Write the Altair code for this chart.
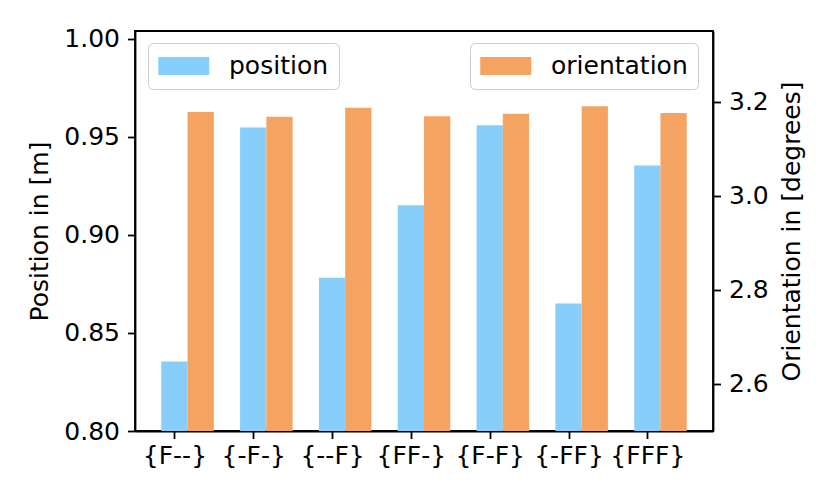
import json
import altair as alt
import pandas as pd

configs = ["{F--}", "{-F-}", "{--F}", "{FF-}", "{F-F}", "{-FF}", "{FFF}"]
position = [0.8354, 0.9548, 0.8781, 0.9151, 0.9559, 0.8650, 0.9354]
orientation = [3.178, 3.168, 3.187, 3.169, 3.174, 3.190, 3.176]
pos_ticks = [0.80, 0.85, 0.90, 0.95, 1.00]
ori_ticks = [2.6, 2.8, 3.0, 3.2]

df = pd.DataFrame({
    "config": configs,
    "idx": list(range(len(configs))),
    "position": position,
    "orientation": orientation,
})

FONT = "DejaVu Sans"
FS = 25
label_expr = "%s[datum.value]" % json.dumps(configs)

xenc = alt.X(
    "x0:Q",
    scale=alt.Scale(domain=[-0.5, 6.8333], nice=False, zero=False),
    axis=alt.Axis(values=list(range(len(configs))), labelExpr=label_expr,
                  title=None, grid=False, labelPadding=5,
                  labelOverlap=False, labelFlush=False),
)

legend_common = dict(
    title=None, orient="none", legendY=12,
    strokeColor="#cccccc", fillColor="rgba(255,255,255,0.8)",
    cornerRadius=5, padding=10,
    symbolType="M-1,-0.7H3V0.7H-1Z", symbolSize=650,
    symbolStrokeWidth=0, symbolOpacity=1,
    labelFontSize=FS, labelFont=FONT, labelColor="black", labelOffset=45,
)

pos_layer = alt.Chart(df).transform_calculate(
    x0="datum.idx - 1/6", x1="datum.idx + 1/6", series='"position"'
).mark_bar(clip=True).encode(
    x=xenc,
    x2="x1:Q",
    y=alt.Y("position:Q",
            scale=alt.Scale(domain=[0.8, 1.004], nice=False, zero=False),
            axis=alt.Axis(values=pos_ticks, format=".2f", title="Position in [m]",
                          grid=False, orient="left", titlePadding=11)),
    y2=alt.datum(0),
    color=alt.Color("series:N",
                    scale=alt.Scale(domain=["position"], range=["#87CEFA"]),
                    legend=alt.Legend(legendX=13, **legend_common)),
)

ori_layer = alt.Chart(df).transform_calculate(
    x0="datum.idx + 1/6", x1="datum.idx + 1/2", series='"orientation"'
).mark_bar(clip=True).encode(
    x=xenc,
    x2="x1:Q",
    y=alt.Y("orientation:Q",
            scale=alt.Scale(domain=[2.5, 3.35], nice=False, zero=False),
            axis=alt.Axis(values=ori_ticks, format=".1f",
                          title="Orientation in [degrees]", titleAngle=270,
                          titleBaseline="top",
                          grid=False, orient="right", titlePadding=11)),
    y2=alt.datum(0),
    color=alt.Color("series:N",
                    scale=alt.Scale(domain=["orientation"], range=["#F4A460"]),
                    legend=alt.Legend(legendX=335, **legend_common)),
)

chart = alt.layer(pos_layer, ori_layer).resolve_scale(
    y="independent", color="independent"
).resolve_legend(color="independent").properties(
    width=578, height=400,
    padding={"left": 19, "top": 18, "right": 5, "bottom": 5},
).configure_view(
    stroke="black", strokeWidth=1.8
).configure_axis(
    labelFont=FONT, labelFontSize=FS, labelColor="black",
    titleFont=FONT, titleFontSize=FS, titleColor="black", titleFontWeight="normal",
    tickColor="black", tickWidth=1.8, tickSize=7.5,
    domainColor="black", domainWidth=1.8, labelPadding=8,
)

chart.save("out.html", embed_options={"renderer": "svg", "actions": False})
